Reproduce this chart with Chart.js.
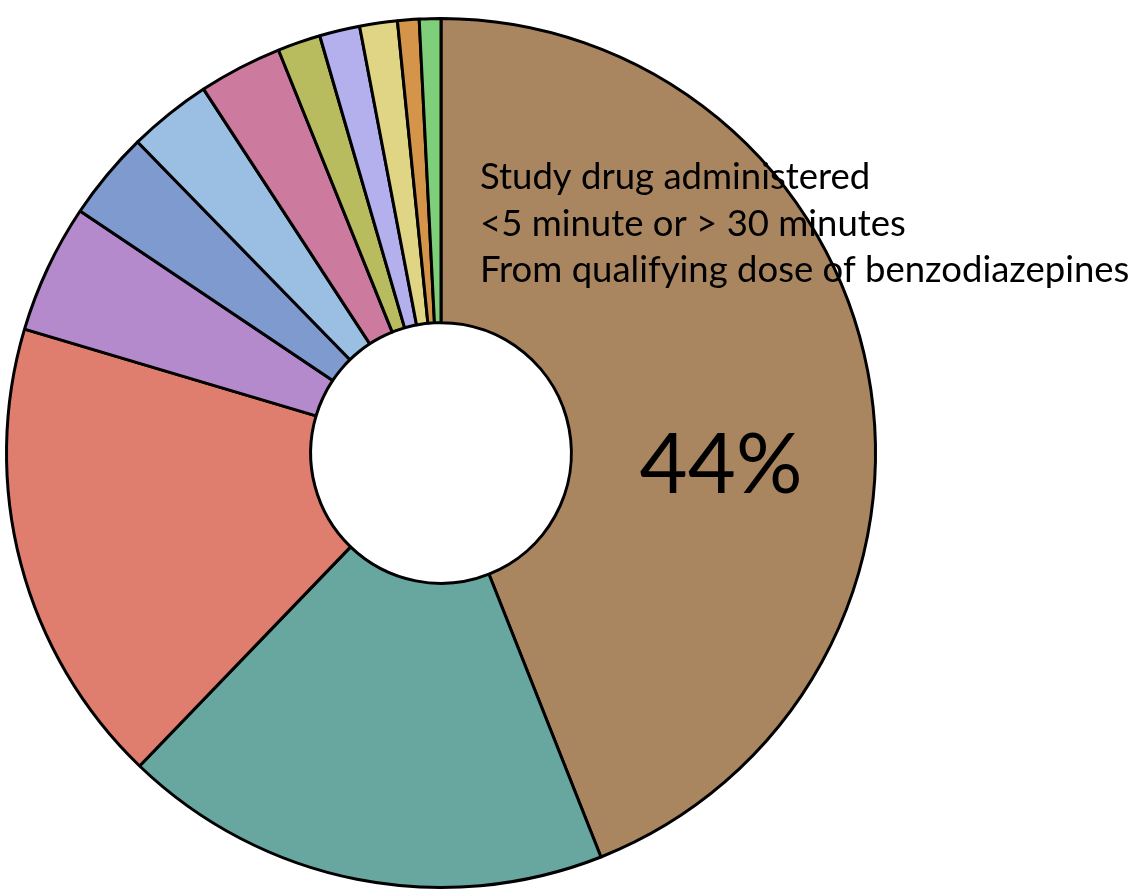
<!DOCTYPE html>
<html>
<head>
<meta charset="utf-8">
<script src="https://cdn.jsdelivr.net/npm/chart.js@4"></script>
<style>
  html, body { margin: 0; padding: 0; background: #fff; }
  #wrap { width: 1140px; height: 895px; }
</style>
</head>
<body>
<div id="wrap"><canvas id="chart-reasons" width="1140" height="895"></canvas></div>
<script>
  // share of protocol deviations, clockwise from 12 o'clock
  const REASONS = [
    'Study drug administered <5 minute or > 30 minutes from qualifying dose of benzodiazepines',
    'Reason 2', 'Reason 3', 'Reason 4', 'Reason 5', 'Reason 6',
    'Reason 7', 'Reason 8', 'Reason 9', 'Reason 10', 'Reason 11', 'Reason 12',
  ];
  const SHARES = [44, 18.2, 17.4, 4.8, 3.3, 3.1, 3.1, 1.6, 1.5, 1.4, 0.8, 0.8];
  const SLICE_COLORS = [
    '#a98660', '#68a6a0', '#df7e6e', '#b48acc', '#7f9acf', '#9bbfe3',
    '#cc7a9e', '#b8bc5e', '#b4b0ee', '#e0d485', '#d4954a', '#7fce7a',
  ];
  const NOTE_LINES = [
    'Study drug administered',
    '<5 minute or > 30 minutes',
    'From qualifying dose of benzodiazepines',
  ];

  const annotate = {
    id: 'annotate',
    afterDraw(chart) {
      const ctx = chart.ctx;
      ctx.save();
      ctx.fillStyle = '#000';
      ctx.textAlign = 'left';
      ctx.textBaseline = 'alphabetic';
      ctx.font = '36.5px Lato, sans-serif';
      NOTE_LINES.forEach((line, i) => ctx.fillText(line, 480, 189 + i * 46.5));

      ctx.textAlign = 'center';
      ctx.font = '83px Lato, sans-serif';
      ctx.fillText(SHARES[0] + '%', 721, 493);
      ctx.restore();
    },
  };

  new Chart(document.getElementById('chart-reasons'), {
    type: 'doughnut',
    data: {
      labels: REASONS,
      datasets: [{
        data: SHARES,
        backgroundColor: SLICE_COLORS,
        borderColor: '#000',
        borderWidth: 3,
      }],
    },
    options: {
      responsive: false,
      animation: false,
      cutout: '30%',
      layout: { padding: { left: 5, right: 263, top: 15, bottom: 4 } },
      plugins: {
        legend: { display: false },
        tooltip: { enabled: false },
      },
    },
    plugins: [annotate],
  });
</script>
</body>
</html>
